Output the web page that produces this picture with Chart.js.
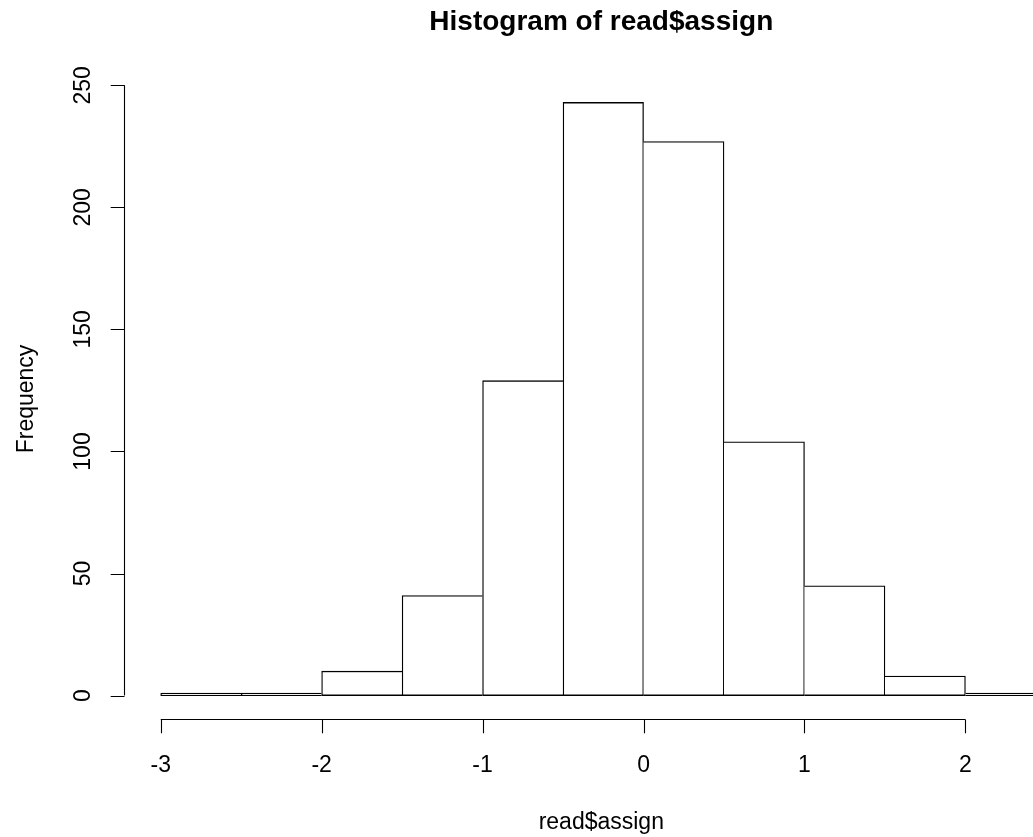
<!DOCTYPE html>
<html>
<head>
<meta charset="utf-8">
<script src="https://cdn.jsdelivr.net/npm/chart.js@4.4.1/dist/chart.umd.min.js"></script>
<style>
  html, body { margin: 0; padding: 0; background: #fff; overflow: hidden; width: 1033px; height: 837px; }
  canvas { display: block; }
</style>
</head>
<body>
<canvas id="hist" width="1100" height="837"></canvas>
<script>
// Histogram bins (break points) and their counts
const breaks = [-3, -2.5, -2, -1.5, -1, -0.5, 0, 0.5, 1, 1.5, 2, 2.5];
const counts = [1, 1, 10, 41, 129, 243, 227, 104, 45, 8, 1];
const xTicks = [-3, -2, -1, 0, 1, 2];
const yTicks = [0, 50, 100, 150, 200, 250];
const titleText = 'Histogram of read$assign';
const xTitle = 'read$assign';
const yTitle = 'Frequency';

const FONT = '"Liberation Sans", Arial, Helvetica, sans-serif';
const INK = '#000';
const EDGE = 1.3;

// one point per bin, centred in the bin
const points = counts.map((c, i) => ({ x: (breaks[i] + breaks[i + 1]) / 2, y: c }));

// axis ranges padded by 4% like a base-graphics plot region
const xSpan = breaks[breaks.length - 1] - breaks[0];
const xMin = breaks[0] - 0.04 * xSpan;
const xMax = breaks[breaks.length - 1] + 0.04 * xSpan;
const yTop = Math.max(...counts);
const yMin = -0.04 * yTop;
const yMax = yTop * 1.04;

// shared edges are drawn once, by the taller of the two neighbouring bars
function edgeWidths(ctx) {
  const i = ctx.dataIndex;
  const n = counts.length;
  const left = (i === 0 || counts[i] >= counts[i - 1]) ? EDGE : 0;
  const right = (i === n - 1 || counts[i] > counts[i + 1]) ? EDGE : 0;
  return { top: EDGE, bottom: EDGE, left: left, right: right };
}

const baseAxes = {
  id: 'baseAxes',
  afterDraw(chart) {
    const { ctx, chartArea, scales } = chart;
    const xs = scales.x, ys = scales.y;
    const tickLen = 13.8;
    ctx.save();
    ctx.strokeStyle = INK;
    ctx.fillStyle = INK;
    ctx.lineWidth = 1.1;

    // x axis
    const ax = Math.round(chartArea.bottom) + 0.5;
    ctx.beginPath();
    ctx.moveTo(xs.getPixelForValue(xTicks[0]), ax);
    ctx.lineTo(xs.getPixelForValue(xTicks[xTicks.length - 1]), ax);
    xTicks.forEach(v => {
      const px = Math.round(xs.getPixelForValue(v)) + 0.5;
      ctx.moveTo(px, ax);
      ctx.lineTo(px, ax + tickLen);
    });
    ctx.stroke();
    ctx.font = '23px ' + FONT;
    ctx.textAlign = 'center';
    ctx.textBaseline = 'alphabetic';
    xTicks.forEach(v => {
      ctx.fillText(String(v), xs.getPixelForValue(v), 771.5);
    });

    // y axis
    const ay = Math.round(chartArea.left) - 0.5;
    ctx.beginPath();
    ctx.moveTo(ay, ys.getPixelForValue(yTicks[0]));
    ctx.lineTo(ay, ys.getPixelForValue(yTicks[yTicks.length - 1]));
    yTicks.forEach(v => {
      const py = Math.round(ys.getPixelForValue(v)) + 0.5;
      ctx.moveTo(ay, py);
      ctx.lineTo(ay - tickLen, py);
    });
    ctx.stroke();
    yTicks.forEach(v => {
      ctx.save();
      ctx.translate(89.5, ys.getPixelForValue(v));
      ctx.rotate(-Math.PI / 2);
      ctx.fillText(String(v), 0, 0);
      ctx.restore();
    });

    // axis titles
    const cx = (chartArea.left + chartArea.right) / 2 - 2;
    const cy = (chartArea.top + chartArea.bottom) / 2;
    ctx.fillText(xTitle, cx, 829);
    ctx.save();
    ctx.translate(33, cy);
    ctx.rotate(-Math.PI / 2);
    ctx.fillText(yTitle, 0, 0);
    ctx.restore();

    // main title
    ctx.font = 'bold 28px ' + FONT;
    ctx.fillText(titleText, cx, 29.5);
    ctx.restore();
  }
};

new Chart(document.getElementById('hist'), {
  type: 'bar',
  data: {
    datasets: [{
      data: points,
      backgroundColor: '#ffffff',
      borderColor: INK,
      borderWidth: edgeWidths,
      borderSkipped: false,
      barPercentage: 1,
      categoryPercentage: 1
    }]
  },
  options: {
    responsive: false,
    animation: false,
    devicePixelRatio: 1,
    layout: { padding: { left: 125.3, right: 18.7, top: 78.7, bottom: 117.7 } },
    plugins: { legend: { display: false }, tooltip: { enabled: false }, title: { display: false } },
    scales: {
      x: {
        type: 'linear', min: xMin, max: xMax, display: false, offset: false,
        afterBuildTicks: s => { s.ticks = xTicks.map(v => ({ value: v })); }
      },
      y: {
        type: 'linear', min: yMin, max: yMax, display: false,
        afterBuildTicks: s => { s.ticks = yTicks.map(v => ({ value: v })); }
      }
    }
  },
  plugins: [baseAxes]
});
</script>
</body>
</html>
